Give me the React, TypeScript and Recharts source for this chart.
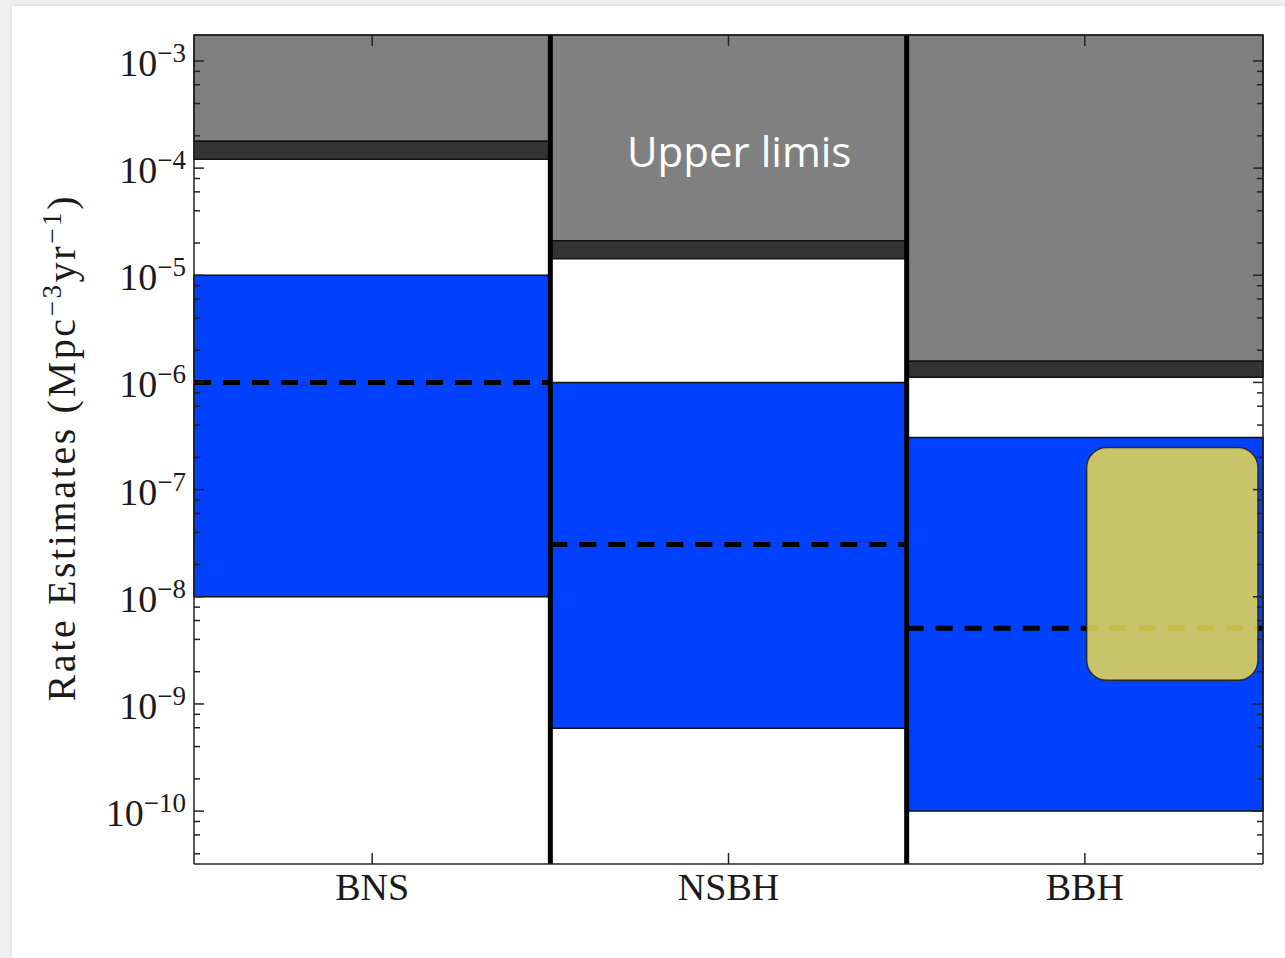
import React from 'react';
import { ComposedChart, XAxis, YAxis, ReferenceArea, ReferenceLine } from 'recharts';

// Merger classes shown as columns
const categories = ['BNS', 'NSBH', 'BBH'];

// Upper limits: the grey region runs from the top of the axis down to the
// limit band; the dark band marks the spread of the limit itself
const limitBandTop = [1.78e-4, 2.1e-5, 1.58e-6];
const limitBandBottom = [1.21e-4, 1.43e-5, 1.12e-6];

// Predicted rate ranges (blue) and their central values (dashed)
const rateHigh = [1e-5, 1e-6, 3.06e-7];
const rateLow = [1e-8, 5.94e-10, 1e-10];
const rateMedian = [1e-6, 3.08e-8, 5.08e-9];

// Rate interval highlighted inside the BBH column
const bbhHighlight = [1.66e-9, 2.47e-7];

// Axis ticks
const majorTicks = [1e-10, 1e-9, 1e-8, 1e-7, 1e-6, 1e-5, 1e-4, 1e-3];
const minorSubs = [2, 4, 6, 8];
const categoryTicks = [0.5, 1.5, 2.5];

const Y_MIN = 3.21e-11;
const Y_MAX = 1.746e-3;

const minorTicks: number[] = [];
for (let e = -11; e <= -3; e++) {
  for (const s of minorSubs) {
    const v = s * Math.pow(10, e);
    if (v > Y_MIN && v < Y_MAX) minorTicks.push(v);
  }
}
const yTicks = [...majorTicks, ...minorTicks].sort((a, b) => a - b);

// one row per column, positioned at the column centre
const rows = categories.map((name, i) => ({ name, pos: categoryTicks[i], median: rateMedian[i] }));

const isMajor = (v: number) => {
  const l = Math.log10(v);
  return Math.abs(l - Math.round(l)) < 1e-6;
};

const SERIF = '"Liberation Serif", "DejaVu Serif", serif';
const INK = '#1a1a1a';
const FRAME = '#222';

const LeftTick = (props: any) => {
  const { x, y, payload } = props;
  const v = payload.value as number;
  const major = isMajor(v);
  const exp = Math.round(Math.log10(v));
  return (
    <g>
      <line x1={x} x2={x + (major ? 10 : 6)} y1={y} y2={y} stroke={FRAME} strokeWidth={1.5} />
      {major && (
        <text x={x - 8} y={y + 15} textAnchor="end" fontFamily={SERIF} fontSize={38} fill={INK}>
          10
          <tspan dy={-14} fontSize={27}>{'\u2212' + String(-exp)}</tspan>
        </text>
      )}
    </g>
  );
};

const RightTick = (props: any) => {
  const { x, y, payload } = props;
  const major = isMajor(payload.value as number);
  return <line x1={x} x2={x - (major ? 10 : 6)} y1={y} y2={y} stroke={FRAME} strokeWidth={1.5} />;
};

const BottomTick = (props: any) => {
  const { x, y, payload } = props;
  const idx = categoryTicks.indexOf(payload.value);
  return (
    <g>
      <line x1={x} x2={x} y1={y} y2={y - 11} stroke={FRAME} strokeWidth={1.5} />
      <text x={x} y={y + 36} textAnchor="middle" fontFamily={SERIF} fontSize={38} fill={INK}>
        {categories[idx]}
      </text>
    </g>
  );
};

const TopTick = (props: any) => {
  const { x, y } = props;
  return <line x1={x} x2={x} y1={y} y2={y + 11} stroke={FRAME} strokeWidth={1.5} />;
};

const RoundedBox = (props: any) => {
  const { x, y, width, height } = props;
  return (
    <rect
      x={x}
      y={y}
      width={width}
      height={height}
      rx={20}
      ry={20}
      fill="rgb(236,220,80)"
      fillOpacity={0.85}
      stroke="#2a2a2a"
      strokeWidth={1.5}
    />
  );
};

export default function App() {
  const axisLine = { stroke: FRAME, strokeWidth: 1.5 };
  return (
    <div
      style={{
        position: 'absolute',
        left: 0,
        top: 0,
        width: 1285,
        height: 958,
        background: '#f0f0f0',
        overflow: 'hidden',
      }}
    >
      <div
        style={{
          position: 'absolute',
          left: 12,
          top: 6,
          right: 0,
          bottom: 0,
          background: '#ffffff',
          boxShadow: '0 0 5px rgba(0,0,0,0.12)',
        }}
      />
      <div style={{ position: 'absolute', left: 0, top: 0 }}>
        <ComposedChart width={1285} height={958} margin={{ top: 34, right: 0, bottom: 0, left: 0 }} data={rows}>
          <XAxis
            xAxisId="b"
            dataKey="pos"
            type="number"
            orientation="bottom"
            domain={[0, 3]}
            allowDataOverflow
            ticks={categoryTicks}
            interval={0}
            height={94}
            axisLine={axisLine}
            tickLine={false}
            tickSize={0}
            tickMargin={0}
            tick={<BottomTick />}
          />
          <XAxis
            xAxisId="t"
            dataKey="pos"
            type="number"
            orientation="top"
            domain={[0, 3]}
            allowDataOverflow
            ticks={categoryTicks}
            interval={0}
            height={1}
            axisLine={axisLine}
            tickLine={false}
            tickSize={0}
            tickMargin={0}
            tick={<TopTick />}
          />
          <YAxis
            yAxisId="l"
            type="number"
            scale="log"
            orientation="left"
            domain={[Y_MIN, Y_MAX]}
            allowDataOverflow
            ticks={yTicks}
            interval={0}
            width={194}
            axisLine={axisLine}
            tickLine={false}
            tickSize={0}
            tickMargin={0}
            tick={<LeftTick />}
          />
          <YAxis
            yAxisId="r"
            type="number"
            scale="log"
            orientation="right"
            domain={[Y_MIN, Y_MAX]}
            allowDataOverflow
            ticks={yTicks}
            interval={0}
            width={22}
            axisLine={axisLine}
            tickLine={false}
            tickSize={0}
            tickMargin={0}
            tick={<RightTick />}
          />

          {categories.map((c, i) => (
            <ReferenceArea
              key={'lim-' + c}
              xAxisId="b"
              yAxisId="l"
              x1={i}
              x2={i + 1}
              y1={limitBandTop[i]}
              y2={Y_MAX}
              fill="#808080"
              fillOpacity={1}
              stroke="#111"
              strokeWidth={1.5}
              zIndex={100}
            />
          ))}
          {categories.map((c, i) => (
            <ReferenceArea
              key={'band-' + c}
              xAxisId="b"
              yAxisId="l"
              x1={i}
              x2={i + 1}
              y1={limitBandBottom[i]}
              y2={limitBandTop[i]}
              fill="#333333"
              fillOpacity={1}
              stroke="#111"
              strokeWidth={1.5}
              zIndex={101}
            />
          ))}
          {categories.map((c, i) => (
            <ReferenceArea
              key={'rate-' + c}
              xAxisId="b"
              yAxisId="l"
              x1={i}
              x2={i + 1}
              y1={rateLow[i]}
              y2={rateHigh[i]}
              fill="#0040ff"
              fillOpacity={1}
              stroke="#111"
              strokeWidth={1.5}
              zIndex={102}
            />
          ))}
          {categories.map((c, i) => (
            <ReferenceLine
              key={'med-' + c}
              xAxisId="b"
              yAxisId="l"
              segment={[
                { x: i, y: rateMedian[i] },
                { x: i + 1, y: rateMedian[i] },
              ]}
              stroke="#000"
              strokeWidth={5}
              strokeDasharray="17 12"
              zIndex={103}
            />
          ))}
          <ReferenceArea
            xAxisId="b"
            yAxisId="l"
            x1={2.505}
            x2={2.986}
            y1={bbhHighlight[0]}
            y2={bbhHighlight[1]}
            shape={<RoundedBox />}
            zIndex={104}
          />
          {[1, 2].map((xv) => (
            <ReferenceLine
              key={'sep-' + xv}
              xAxisId="b"
              yAxisId="l"
              x={xv}
              stroke="#000"
              strokeWidth={5}
              zIndex={105}
            />
          ))}
        </ComposedChart>
      </div>
      <svg
        width={1285}
        height={958}
        style={{ position: 'absolute', left: 0, top: 0, pointerEvents: 'none' }}
      >
        <text
          transform="translate(75 449) rotate(-90)"
          x={0}
          y={0}
          textAnchor="middle"
          fontFamily={SERIF}
          fontSize={40}
          fill={INK}
          textLength={505}
          lengthAdjust="spacing"
        >
          Rate Estimates (Mpc
          <tspan dy={-14} fontSize={27}>{'\u22123'}</tspan>
          <tspan dy={14}>yr</tspan>
          <tspan dy={-14} fontSize={27}>{'\u22121'}</tspan>
          <tspan dy={14}>)</tspan>
        </text>
        <text x={627} y={167} fontFamily='"Open Sans", "Noto Sans", sans-serif' fontSize={42} fill="#ffffff">
          Upper limis
        </text>
      </svg>
    </div>
  );
}
